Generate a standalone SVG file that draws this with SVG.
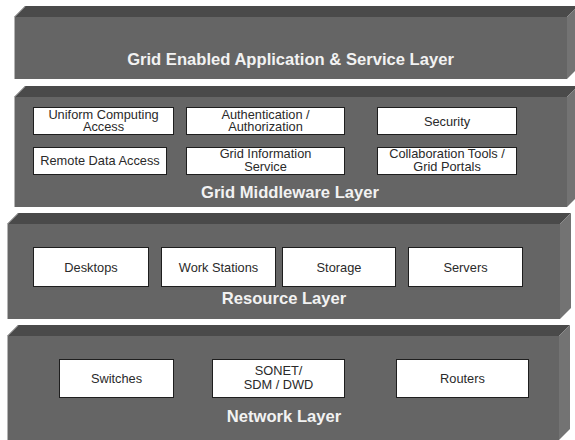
<svg xmlns="http://www.w3.org/2000/svg" width="575" height="440" viewBox="0 0 575 440">
<style>
.top{fill:#4a4a4a}
.front{fill:#656565}
.side{fill:#737373}
.edge{stroke:#b4b4b4;stroke-width:1;fill:none}
.title{font-family:"Liberation Sans",Arial,sans-serif;font-weight:bold;font-size:16.6px;fill:#f2f2f2;text-anchor:middle}
.box{fill:#ffffff;stroke:#1e1e1e;stroke-width:1}
.lbl{font-family:"Liberation Sans",Arial,sans-serif;font-size:12.8px;fill:#2a2a2a;text-anchor:middle}
</style>
<rect width="575" height="440" fill="#ffffff"/>
<g id="layer-application">
<polygon class="top" points="14,17 25,6 578,6 567,17"/>
<rect class="front" x="14" y="17" width="553" height="62"/>
<polygon class="side" points="567,17 578,6 578,68 567,79"/>
<polyline class="edge" points="14.5,79 14.5,17 25,6.5"/>
<text class="title" x="290.5" y="65">Grid Enabled Application &amp; Service Layer</text>
</g>
<g id="layer-middleware">
<polygon class="top" points="14,97 25,86 578,86 567,97"/>
<rect class="front" x="14" y="97" width="553" height="110"/>
<polygon class="side" points="567,97 578,86 578,196 567,207"/>
<polyline class="edge" points="14.5,207 14.5,97 25,86.5"/>
<text class="title" x="290" y="198">Grid Middleware Layer</text>
</g>
<g id="node-uniform">
<rect class="box" x="33.5" y="107.5" width="140" height="27"/>
<text class="lbl" x="103.5" y="118.5">Uniform Computing</text>
<text class="lbl" x="103.5" y="131">Access</text>
</g>
<g id="node-auth">
<rect class="box" x="186.5" y="107.5" width="158" height="27"/>
<text class="lbl" x="265.5" y="118.5">Authentication /</text>
<text class="lbl" x="265.5" y="131">Authorization</text>
</g>
<g id="node-security">
<rect class="box" x="377.5" y="107.5" width="139" height="27"/>
<text class="lbl" x="447" y="125.5">Security</text>
</g>
<g id="node-remote">
<rect class="box" x="33.5" y="147.5" width="133" height="27"/>
<text class="lbl" x="100" y="165">Remote Data Access</text>
</g>
<g id="node-gis">
<rect class="box" x="186.5" y="147.5" width="158" height="27"/>
<text class="lbl" x="265.5" y="158">Grid Information</text>
<text class="lbl" x="265.5" y="170.5">Service</text>
</g>
<g id="node-collab">
<rect class="box" x="377.5" y="147.5" width="139" height="27"/>
<text class="lbl" x="447" y="158">Collaboration Tools /</text>
<text class="lbl" x="447" y="170.5">Grid Portals</text>
</g>
<g id="layer-resource">
<polygon class="top" points="7,224 18,213 571,213 560,224"/>
<rect class="front" x="7" y="224" width="553" height="95"/>
<polygon class="side" points="560,224 571,213 571,308 560,319"/>
<polyline class="edge" points="7.5,319 7.5,224 18,213.5"/>
<text class="title" x="284" y="304">Resource Layer</text>
</g>
<g id="node-desktops">
<rect class="box" x="33.5" y="247.5" width="115" height="39"/>
<text class="lbl" x="91" y="271.5">Desktops</text>
</g>
<g id="node-workstations">
<rect class="box" x="161.5" y="247.5" width="114" height="39"/>
<text class="lbl" x="218.5" y="271.5">Work Stations</text>
</g>
<g id="node-storage">
<rect class="box" x="282.5" y="247.5" width="113" height="39"/>
<text class="lbl" x="339" y="271.5">Storage</text>
</g>
<g id="node-servers">
<rect class="box" x="408.5" y="247.5" width="114" height="39"/>
<text class="lbl" x="465.5" y="271.5">Servers</text>
</g>
<g id="layer-network">
<polygon class="top" points="7,336 18,325 570,325 559,336"/>
<rect class="front" x="7" y="336" width="552" height="104"/>
<polygon class="side" points="559,336 570,325 570,429 559,440"/>
<polyline class="edge" points="7.5,440 7.5,336 18,325.5"/>
<text class="title" x="284" y="422">Network Layer</text>
</g>
<g id="node-switches">
<rect class="box" x="59.5" y="359.5" width="114" height="38"/>
<text class="lbl" x="116.5" y="383">Switches</text>
</g>
<g id="node-sonet">
<rect class="box" x="212.5" y="359.5" width="132" height="38"/>
<text class="lbl" x="278.5" y="375">SONET/</text>
<text class="lbl" x="278.5" y="388.5">SDM / DWD</text>
</g>
<g id="node-routers">
<rect class="box" x="396.5" y="359.5" width="132" height="38"/>
<text class="lbl" x="462.5" y="383">Routers</text>
</g>
<g id="connectors"></g>
</svg>
